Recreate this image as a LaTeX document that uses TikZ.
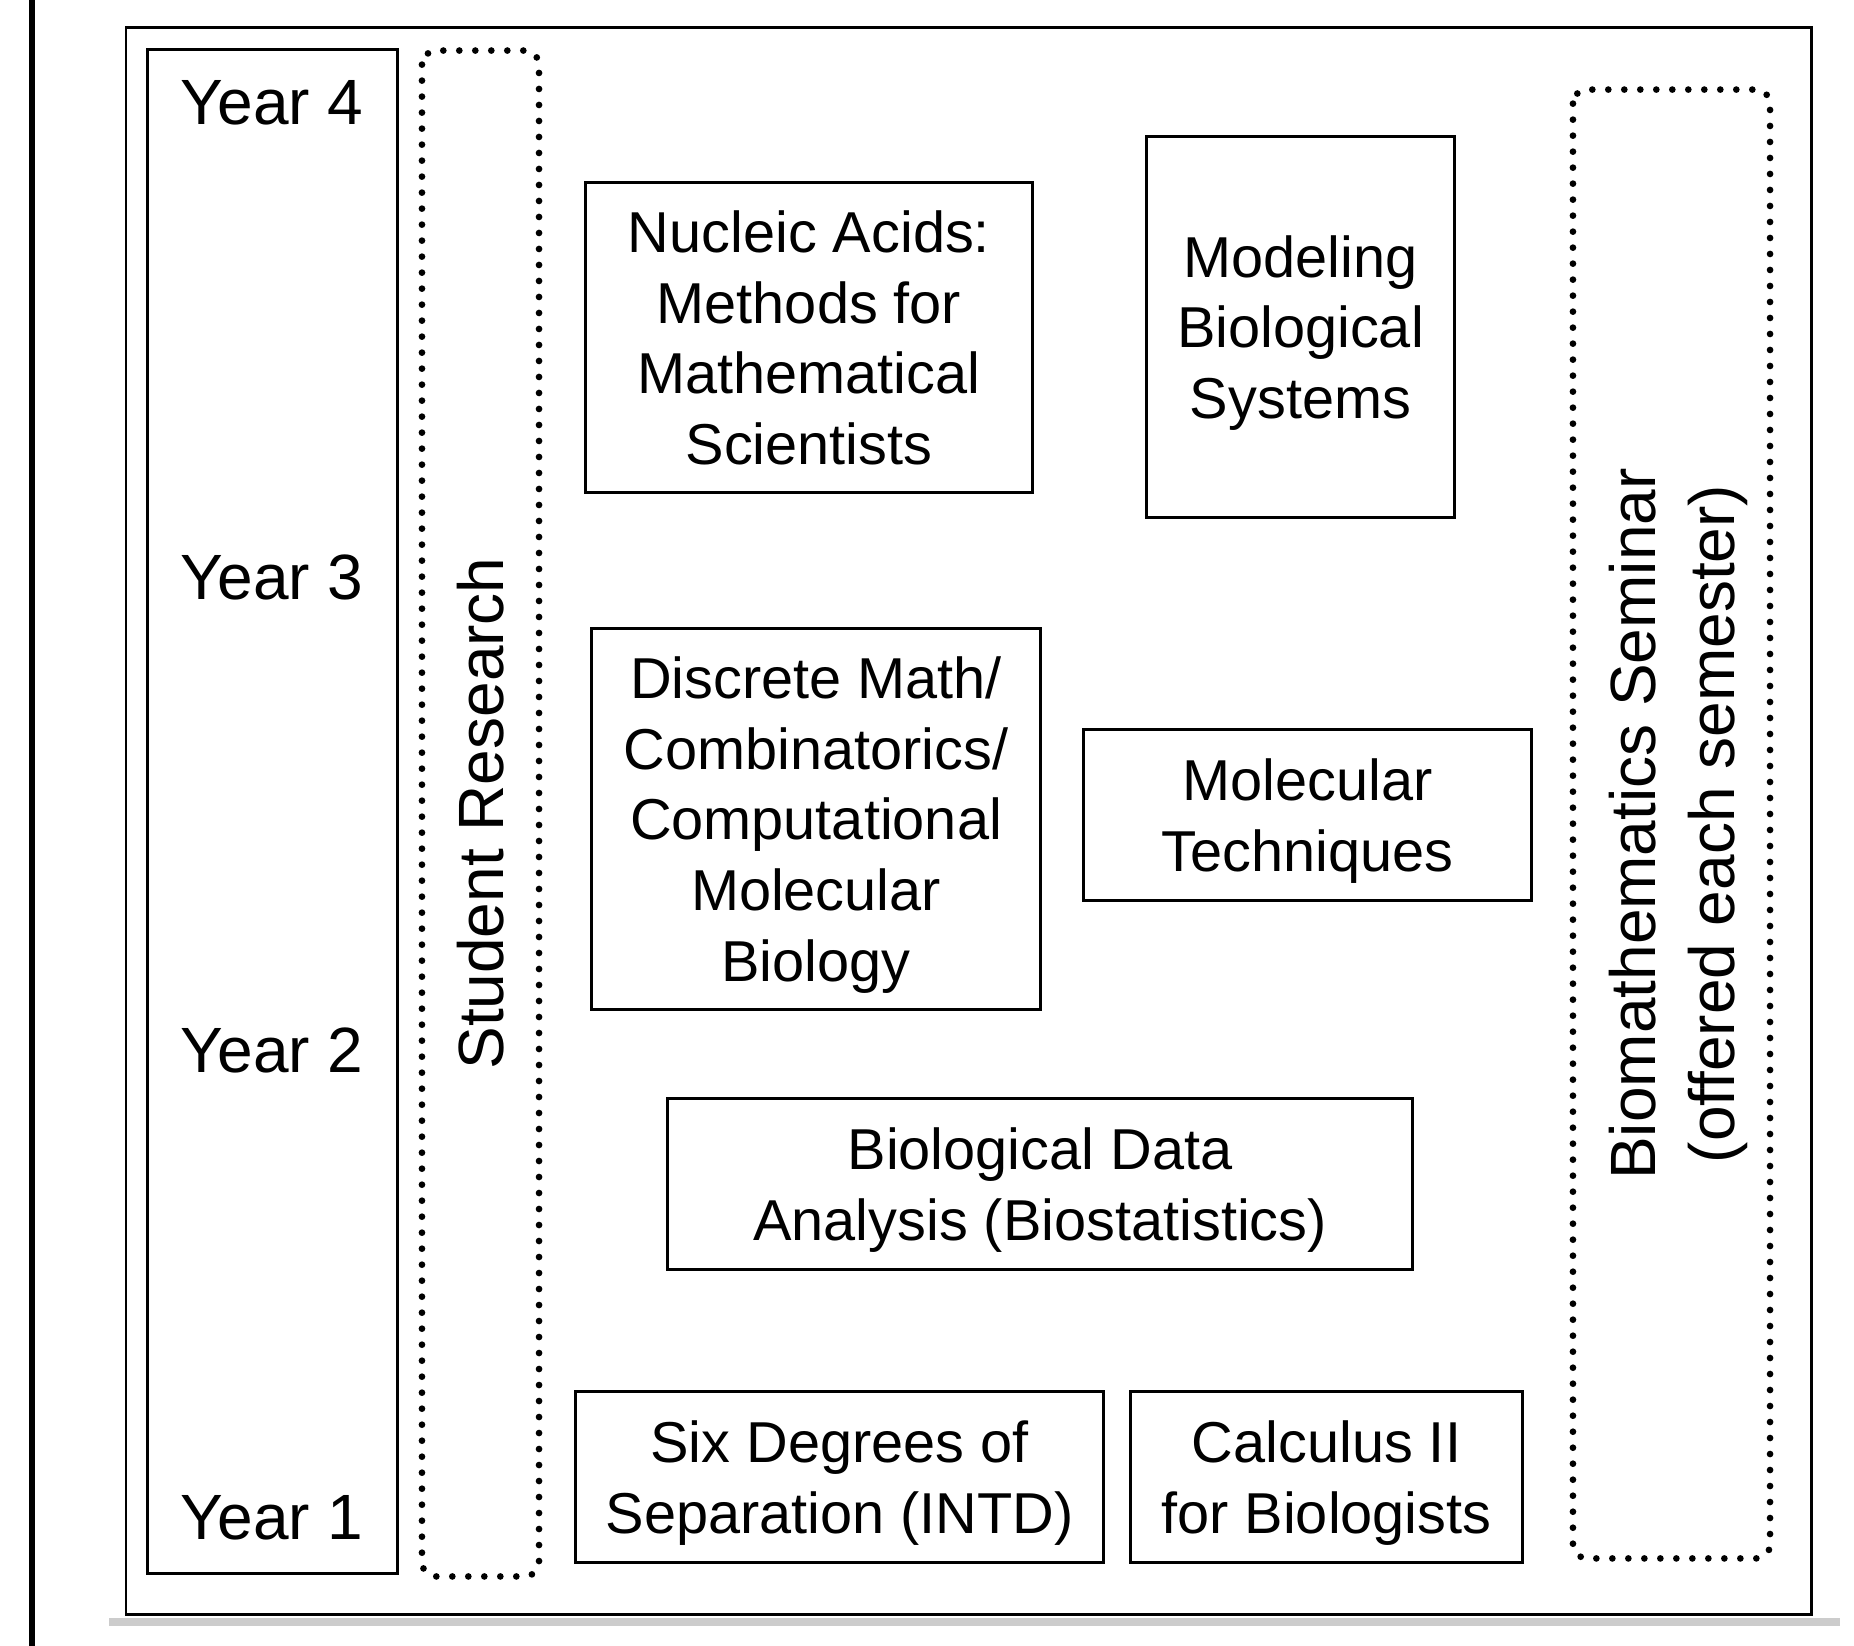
\documentclass[tikz,border=0pt]{standalone}
\usepackage{fontspec}
\setmainfont{Liberation Sans}
\newcommand{\coursefont}{\fontsize{16.4}{20.1}\selectfont}
\newcommand{\labelfont}{\fontsize{18.2}{22.5}\selectfont}
\tikzset{
  course/.style = {rectangle, draw=black, line width=0.85pt, inner sep=0pt,
    align=center, text depth=0pt, font=\coursefont},% one course
  yearcol/.style = {rectangle, draw=black, line width=0.85pt, inner sep=0pt},% column of years
  yearlab/.style = {inner sep=0pt, font=\labelfont},
  dotbox/.style = {rectangle, draw=black, line width=1.9pt, line cap=round,
    dash pattern=on 0pt off 4.55pt, rounded corners=4pt, inner sep=0pt,
    align=center, text depth=0pt, font=\labelfont, rotate=90}% runs through all years
}
\begin{document}
\begin{tikzpicture}[x=0.01cm,y=-0.01cm]
\useasboundingbox (0,0) rectangle (1854,1646);
\fill[white] (0,0) rectangle (1854,1646);
\draw[line width=1.7pt] (32,0) -- (32,1646);
\fill[black!20] (109,1618) rectangle (1840,1626);
\draw[line width=0.85pt] (126,28) rectangle (1811,1614);

\node[yearcol, minimum width=2.49cm, minimum height=15.23cm] (years) at (272.5,811.5) {};
\node[yearlab] (y4) at (272,103) {Year 4};
\node[yearlab] (y3) at (272,577) {Year 3};
\node[yearlab] (y2) at (272,1050) {Year 2};
\node[yearlab] (y1) at (272,1518) {Year 1};

\node[dotbox, minimum width=15.25cm, minimum height=1.17cm] (research) at (480.5,813.5) {Student Research};
\node[dotbox, minimum width=14.68cm, minimum height=1.97cm] (seminar) at (1671.5,824)
  {Biomathematics Seminar\\(offered each semester)};

\node[course, minimum width=4.46cm, minimum height=3.09cm] (nucleic) at (809,337.5)
  {Nucleic Acids:\\Methods for\\Mathematical\\Scientists};
\node[course, minimum width=3.07cm, minimum height=3.80cm] (modeling) at (1300.5,327)
  {Modeling\\Biological\\Systems};
\node[course, minimum width=4.48cm, minimum height=3.80cm] (discrete) at (816,819)
  {Discrete Math/\\Combinatorics/\\Computational\\Molecular\\Biology};
\node[course, minimum width=4.47cm, minimum height=1.70cm] (moltech) at (1307.5,815)
  {Molecular\\Techniques};
\node[course, minimum width=7.44cm, minimum height=1.70cm] (biodata) at (1040,1184)
  {Biological Data\\Analysis (Biostatistics)};
\node[course, minimum width=5.27cm, minimum height=1.70cm] (sixdeg) at (839.5,1477)
  {Six Degrees of\\Separation (INTD)};
\node[course, minimum width=3.91cm, minimum height=1.70cm] (calculus) at (1326.5,1477)
  {Calculus II\\for Biologists};
\end{tikzpicture}
\end{document}
